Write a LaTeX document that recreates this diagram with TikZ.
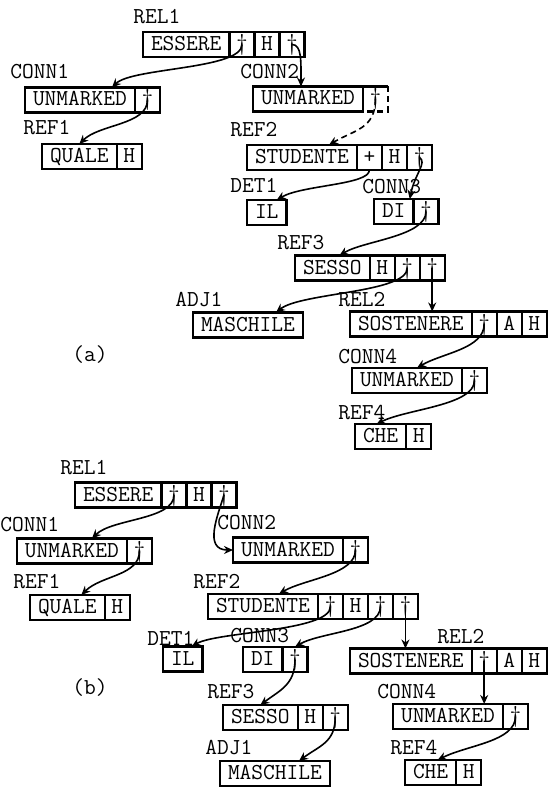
\documentclass[tikz,border=0pt]{standalone}
\usepackage{fontspec}
\usetikzlibrary{arrows.meta,positioning}
\begin{document}
\begin{tikzpicture}[x=0.5pt,y=-0.5pt]
  \tikzset{cell/.style = {shape=rectangle,draw,line width=1.1pt,minimum height=12.5pt,inner xsep=4pt,inner ysep=0pt,outer sep=0pt,text height=7pt,text depth=1pt,font=\ttfamily\fontsize{11.4}{13}\selectfont}}
  \tikzset{ptr/.style = {cell,minimum width=12.5pt,inner xsep=0pt}}
  \tikzset{lbl/.style = {anchor=west,inner sep=0pt,font=\ttfamily\fontsize{11.4}{13}\selectfont}}
  \tikzset{edge/.style = {-{Stealth[length=4.5pt,width=4pt]},line width=0.8pt}}

  \useasboundingbox (0,0) rectangle (549,791);

  % (a)
  \node[lbl] (aREL1) at (133,17) {REL1};
  \node[cell,anchor=west] (aES) at (143,44.5) {ESSERE};
  \node[ptr,right=0pt of aES] (aES1) {\textdagger};
  \node[ptr,right=0pt of aES1] (aESh) {H};
  \node[ptr,right=0pt of aESh] (aES2) {\textdagger};

  \node[lbl] (aCONN1) at (10,72) {CONN1};
  \node[cell,anchor=west] (aU1) at (25,100) {UNMARKED};
  \node[ptr,right=0pt of aU1] (aU1p) {\textdagger};

  \node[lbl] (aREF1) at (23,128) {REF1};
  \node[cell,anchor=west] (aQU) at (42,156.5) {QUALE};
  \node[ptr,right=0pt of aQU] (aQUh) {H};

  \node[lbl] (aCONN2) at (240,72) {CONN2};
  \node[cell,anchor=west] (aU2) at (253,99) {UNMARKED};
  \node[ptr,draw=none,right=0pt of aU2] (aU2p) {\textdagger};
  \draw[line width=1.1pt] (aU2p.north west) -- (aU2p.north east);
  \draw[line width=1.1pt,densely dashed] (aU2p.north east) -- (aU2p.south east) -- (aU2p.south west);

  \node[lbl] (aREF2) at (230,130) {REF2};
  \node[cell,anchor=west] (aST) at (247,157.5) {STUDENTE};
  \node[ptr,right=0pt of aST] (aST1) {+};
  \node[ptr,right=0pt of aST1] (aSTh) {H};
  \node[ptr,right=0pt of aSTh] (aST2) {\textdagger};

  \node[lbl] (aDET1) at (230,185) {DET1};
  \node[cell,anchor=west] (aIL) at (247,212.5) {IL};

  \node[lbl] (aCONN3) at (362,187) {CONN3};
  \node[cell,anchor=west] (aDI) at (374,211.5) {DI};
  \node[ptr,right=0pt of aDI] (aDIp) {\textdagger};

  \node[lbl] (aREF3) at (277,243) {REF3};
  \node[cell,anchor=west] (aSS) at (295,268) {SESSO};
  \node[ptr,right=0pt of aSS] (aSSh) {H};
  \node[ptr,right=0pt of aSSh] (aSS1) {\textdagger};
  \node[ptr,right=0pt of aSS1] (aSS2) {\textdagger};

  \node[lbl] (aADJ1) at (175,300) {ADJ1};
  \node[cell,anchor=west] (aMA) at (193,325) {MASCHILE};

  \node[lbl] (aREL2) at (338,300) {REL2};
  \node[cell,anchor=west] (aSO) at (350,324) {SOSTENERE};
  \node[ptr,right=0pt of aSO] (aSOp) {\textdagger};
  \node[ptr,right=0pt of aSOp] (aSOa) {A};
  \node[ptr,right=0pt of aSOa] (aSOh) {H};

  \node[lbl] (aCONN4) at (338,357) {CONN4};
  \node[cell,anchor=west] (aU4) at (352,380.5) {UNMARKED};
  \node[ptr,right=0pt of aU4] (aU4p) {\textdagger};

  \node[lbl] (aREF4) at (338,413) {REF4};
  \node[cell,anchor=west] (aCH) at (355,436.5) {CHE};
  \node[ptr,right=0pt of aCH] (aCHh) {H};

  \node[lbl] (alab) at (72,355) {(a)};

  \draw[edge] (aES1.center) .. controls +(0,25) and +(20,-20) .. ([xshift=16pt]aU1.north);
  \draw[edge] (aU1p.center) .. controls +(0,25) and +(20,-20) .. (aQU.north);
  \draw[edge] (aES2.center) .. controls +(10,0) and +(0,-25) .. ([xshift=-3.5pt]aU2.north);
  \draw[edge,densely dashed] (aU2p.center) .. controls +(0,30) and +(25,-15) .. ([xshift=13.5pt]aST.north);
  \draw[edge] (aST1.south) .. controls +(0,15) and +(25,-15) .. ([xshift=5pt]aIL.north);
  \draw[edge] (aST2.center) .. controls +(8,5) and +(5,-25) .. ([xshift=8pt]aDI.north);
  \draw[edge] (aDIp.center) .. controls +(0,25) and +(25,-15) .. ([xshift=3.5pt]aSS.north);
  \draw[edge] (aSS1.center) .. controls +(0,25) and +(25,-20) .. ([xshift=14pt]aMA.north);
  \draw[edge] (aSOp.center) .. controls +(0,25) and +(25,-15) .. ([xshift=5pt]aU4.north);
  \draw[edge] (aU4p.center) .. controls +(0,25) and +(30,-15) .. ([xshift=-2pt]aCH.north);

  % (b)
  \node[lbl] (bREL1) at (60,468) {REL1};
  \node[cell,anchor=west] (bES) at (75,495) {ESSERE};
  \node[ptr,right=0pt of bES] (bES1) {\textdagger};
  \node[ptr,right=0pt of bES1] (bESh) {H};
  \node[ptr,right=0pt of bESh] (bES2) {\textdagger};

  \node[lbl] (bCONN1) at (0,525) {CONN1};
  \node[cell,anchor=west] (bU1) at (17,551) {UNMARKED};
  \node[ptr,right=0pt of bU1] (bU1p) {\textdagger};

  \node[lbl] (bREF1) at (13,582) {REF1};
  \node[cell,anchor=west] (bQU) at (30,607.5) {QUALE};
  \node[ptr,right=0pt of bQU] (bQUh) {H};

  \node[lbl] (bCONN2) at (217,523) {CONN2};
  \node[cell,anchor=west] (bU2) at (233,550) {UNMARKED};
  \node[ptr,right=0pt of bU2] (bU2p) {\textdagger};

  \node[lbl] (bREF2) at (193,582) {REF2};
  \node[cell,anchor=west] (bST) at (208,606.5) {STUDENTE};
  \node[ptr,right=0pt of bST] (bST1) {\textdagger};
  \node[ptr,right=0pt of bST1] (bSTh) {H};
  \node[ptr,right=0pt of bSTh] (bST3) {\textdagger};
  \node[ptr,right=0pt of bST3] (bST4) {\textdagger};

  \node[lbl] (bDET1) at (147,638) {DET1};
  \node[cell,anchor=west] (bIL) at (163,659) {IL};

  \node[lbl] (bCONN3) at (230,636) {CONN3};
  \node[cell,anchor=west] (bDI) at (243,659.5) {DI};
  \node[ptr,right=0pt of bDI] (bDIp) {\textdagger};

  \node[lbl] (bREL2) at (437,637) {REL2};
  \node[cell,anchor=west] (bSO) at (350,661) {SOSTENERE};
  \node[ptr,right=0pt of bSO] (bSOp) {\textdagger};
  \node[ptr,right=0pt of bSOp] (bSOa) {A};
  \node[ptr,right=0pt of bSOa] (bSOh) {H};

  \node[lbl] (bCONN4) at (377,692) {CONN4};
  \node[cell,anchor=west] (bU4) at (393,716.5) {UNMARKED};
  \node[ptr,right=0pt of bU4] (bU4p) {\textdagger};

  \node[lbl] (bREF4) at (390,748) {REF4};
  \node[cell,anchor=west] (bCH) at (405,772.5) {CHE};
  \node[ptr,right=0pt of bCH] (bCHh) {H};

  \node[lbl] (bREF3) at (207,692) {REF3};
  \node[cell,anchor=west] (bSS) at (223,717.5) {SESSO};
  \node[ptr,right=0pt of bSS] (bSSh) {H};
  \node[ptr,right=0pt of bSSh] (bSSp) {\textdagger};

  \node[lbl] (bADJ1) at (205,748) {ADJ1};
  \node[cell,anchor=west] (bMA) at (220,773.5) {MASCHILE};

  \node[lbl] (blab) at (72,688) {(b)};

  \draw[edge] (bES1.center) .. controls +(0,25) and +(20,-20) .. ([xshift=10pt]bU1.north);
  \draw[edge] (bU1p.center) .. controls +(0,25) and +(20,-20) .. ([xshift=7pt]bQU.north);
  \draw[edge] (bES2.center) .. controls +(-6,20) and +(-30,0) .. (bU2.west);
  \draw[edge] (bU2p.center) .. controls +(0,25) and +(25,-15) .. ([xshift=8pt]bST.north);
  \draw[edge] (bST1.center) .. controls +(0,25) and +(25,-15) .. ([xshift=4.5pt]bIL.north);
  \draw[edge] (bST3.center) .. controls +(0,25) and +(25,-15) .. (bDIp.north);
  \draw[edge] (bDIp.center) .. controls +(0,25) and +(20,-15) .. (bSS.north);
  \draw[edge] (bSSp.center) .. controls +(0,25) and +(20,-15) .. ([xshift=12pt]bMA.north);
  \draw[edge] (bU4p.center) .. controls +(0,25) and +(30,-15) .. ([xshift=3.5pt]bCH.north);

  \foreach \from/\to in {aSS2/aSO,bST4/bSO,bSOp/bU4}
    \draw[edge] (\from.center) -- (\from.center |- \to.north);

\end{tikzpicture}
\end{document}
